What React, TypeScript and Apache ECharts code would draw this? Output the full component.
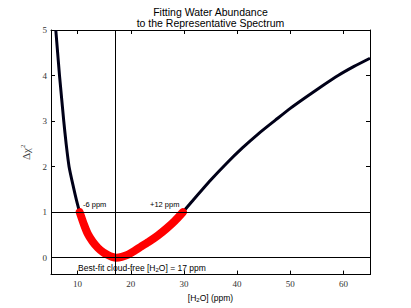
import React, { useEffect, useRef } from "react";
import * as echarts from "echarts";

// [H2O] (ppm) and Δχ²
const h2o = [5.9, 6.25, 6.6, 7.0, 7.4, 7.85, 8.4, 9.2, 9.8, 10.4, 11.2, 11.9, 12.8, 13.8, 14.8, 15.7, 16.5, 17.3, 18.3, 19.5, 20.7, 22, 23.5, 25.1, 26.7, 28.3, 29.8, 32, 35, 38, 41, 44, 47.2, 50, 53, 56, 59, 62, 65];
const dchi2 = [5.0, 4.5, 4.0, 3.5, 3.0, 2.5, 2.0, 1.56, 1.26, 1.0, 0.73, 0.53, 0.36, 0.22, 0.12, 0.06, 0.02, 0.0, 0.02, 0.07, 0.15, 0.25, 0.36, 0.49, 0.64, 0.81, 1.0, 1.3, 1.7, 2.07, 2.41, 2.72, 3.02, 3.28, 3.53, 3.77, 4.0, 4.2, 4.38];
const xTicks = [10, 20, 30, 40, 50, 60];
const yTicks = [0, 1, 2, 3, 4, 5];
const bestFit = 17;
const refLevels = [0, 1];

export default function App() {
  const ref = useRef<HTMLDivElement>(null);
  useEffect(() => {
    const chart = echarts.init(ref.current!, null, { renderer: "svg" });
    const full = h2o.map((x, i) => [x, dchi2[i]]);
    const red = full.filter((p) => p[1] <= 1.0001);
    const serif = "Liberation Serif";
    const sans = "Liberation Sans";
    const tickLabel = { fontFamily: serif, fontSize: 9, color: "#333" };
    chart.setOption({
      animation: false,
      backgroundColor: "#fff",
      grid: { left: 51, right: 41, top: 30, bottom: 32 },
      xAxis: [
        {
          type: "value", min: 5, max: 65, position: "bottom",
          axisLine: { show: true, onZero: false, lineStyle: { color: "#000", width: 1 } },
          axisTick: { show: true, inside: true, length: 4, customValues: xTicks, lineStyle: { color: "#000" } },
          axisLabel: { ...tickLabel, customValues: xTicks, margin: 5 },
          splitLine: { show: false },
          name: "{n|[H}{s|2}{n|O] (ppm)}", nameLocation: "middle", nameGap: 17,
          nameTextStyle: {
            rich: {
              n: { fontFamily: sans, fontSize: 8.5, color: "#000" },
              s: { fontFamily: sans, fontSize: 6, color: "#000", verticalAlign: "bottom", padding: [4, 0, 0, 0] },
            },
          },
        },
        {
          type: "value", min: 5, max: 65, position: "top",
          axisLine: { show: true, onZero: false, lineStyle: { color: "#000", width: 1 } },
          axisTick: { show: true, inside: true, length: 4, customValues: xTicks, lineStyle: { color: "#000" } },
          axisLabel: { show: false },
          splitLine: { show: false },
        },
      ],
      yAxis: [
        {
          type: "value", min: -0.37, max: 5, position: "left",
          axisLine: { show: true, onZero: false, lineStyle: { color: "#000", width: 1 } },
          axisTick: { show: true, inside: true, length: 4, customValues: yTicks, lineStyle: { color: "#000" } },
          axisLabel: { ...tickLabel, customValues: yTicks, margin: 4 },
          splitLine: { show: false },
          name: "{n|Δχ}{s|2}", nameLocation: "middle", nameGap: 9, nameRotate: 90,
          nameTextStyle: {
            rich: {
              n: { fontFamily: serif, fontSize: 11, color: "#444" },
              s: { fontFamily: serif, fontSize: 7, color: "#444", verticalAlign: "top", padding: [0, 0, 6, 0] },
            },
          },
        },
        {
          type: "value", min: -0.37, max: 5, position: "right",
          axisLine: { show: true, onZero: false, lineStyle: { color: "#000", width: 1 } },
          axisTick: { show: true, inside: true, length: 4, customValues: yTicks, lineStyle: { color: "#000" } },
          axisLabel: { show: false },
          splitLine: { show: false },
        },
      ],
      series: [
        {
          type: "line", data: full, xAxisIndex: 0, yAxisIndex: 0,
          showSymbol: false, smooth: 0.2, z: 2,
          lineStyle: { color: "#000018", width: 3 },
        },
        {
          type: "line", data: red, xAxisIndex: 0, yAxisIndex: 0,
          showSymbol: false, smooth: 0.2, z: 3,
          lineStyle: { color: "#ff0000", width: 8, cap: "round", join: "round" },
        },
        {
          type: "line", data: [], xAxisIndex: 0, yAxisIndex: 0, z: 4,
          markLine: {
            silent: true, symbol: "none", animation: false,
            label: { show: false },
            lineStyle: { color: "#000", width: 1, type: "solid" },
            data: [...refLevels.map((v) => ({ yAxis: v })), { xAxis: bestFit }],
          },
        },
      ],
      graphic: [
        {
          type: "text", x: 210.5, y: 6,
          style: {
            text: "Fitting Water Abundance\nto the Representative Spectrum",
            fontFamily: sans, fontSize: 10.5, lineHeight: 11.5, fill: "#000", align: "center",
          },
        },
        { type: "text", x: 83, y: 200, style: { text: "-6 ppm", fontFamily: sans, fontSize: 7.5, fill: "#000" } },
        { type: "text", x: 150, y: 200, style: { text: "+12 ppm", fontFamily: sans, fontSize: 7.5, fill: "#000" } },
        {
          type: "text", x: 78, y: 263,
          style: {
            text: "{n|Best-fit cloud-free [H}{s|2}{n|O] = 17 ppm}",
            rich: {
              n: { fontFamily: sans, fontSize: 8.5, fill: "#000" },
              s: { fontFamily: sans, fontSize: 6, fill: "#000", verticalAlign: "bottom", padding: [4, 0, 0, 0] },
            },
          },
        },
      ],
    });
    return () => chart.dispose();
  }, []);
  return <div ref={ref} style={{ position: "fixed", left: 0, top: 0, width: 411, height: 308 }} />;
}
